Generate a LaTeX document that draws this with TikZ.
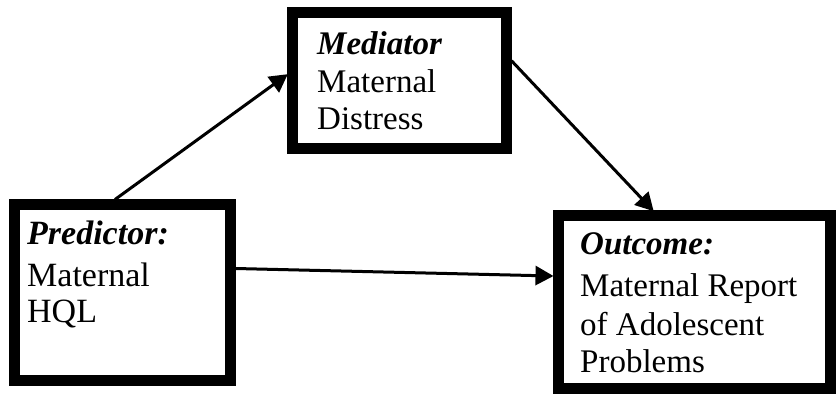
\documentclass[tikz,border=0pt]{standalone}
\usepackage{fontspec}
\setmainfont{Liberation Serif}
\usetikzlibrary{arrows.meta}
\tikzset{
  box/.style={draw=black, line width=11pt, rectangle, inner sep=0pt},
  txt/.style={anchor=base west, inner sep=0pt, font=\fontsize{33}{38}\selectfont},
  ptxt/.style={anchor=base west, inner sep=0pt, font=\fontsize{34}{40}\selectfont},
  conn/.style={line width=3pt, -{Triangle[length=18pt,width=19pt]}, shorten >=-1pt}
}
\begin{document}
\begin{tikzpicture}[x=1pt,y=-1pt]
\useasboundingbox (0,0) rectangle (838,395);
% boxes
\node[box, minimum width=213.5pt, minimum height=136.5pt] (med) at (399.25,80.75) {};
\node[box, minimum width=216pt, minimum height=175pt] (pred) at (122,292.5) {};
\node[box, minimum width=272pt, minimum height=172pt] (out) at (694,302) {};
% texts
\node[txt] (medA) at (317,55) {\textbf{\textit{Mediator}}};
\node[txt] (medB) at (317,93) {Maternal};
\node[txt] (medC) at (317,130) {Distress};
\node[ptxt] (predA) at (27,245) {\textbf{\textit{Predictor:}}};
\node[ptxt] (predB) at (27,287) {Maternal};
\node[ptxt] (predC) at (27,323) {HQL};
\node[txt] (outA) at (580,255) {\textbf{\textit{Outcome:}}};
\node[txt] (outB) at (580,297) {Maternal Report};
\node[txt] (outC) at (580,335) {of Adolescent};
\node[txt] (outD) at (580,372) {Problems};
% connectors
\draw[conn] ([xshift=-7pt]pred.north) -- ([yshift=6pt]med.west);
\draw[conn] ([yshift=20pt]med.east) -- ([xshift=-41pt]out.north);
\draw[conn] ([yshift=24pt]pred.east) -- ([yshift=26pt]out.west);
\end{tikzpicture}
\end{document}
